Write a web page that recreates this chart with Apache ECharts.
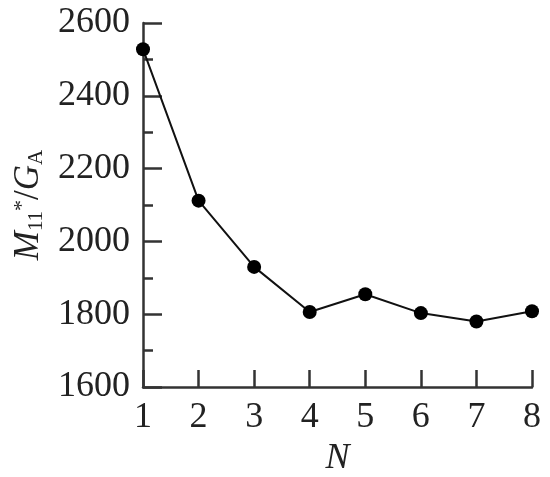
<!DOCTYPE html>
<html>
<head>
<meta charset="utf-8">
<script src="https://cdn.jsdelivr.net/npm/echarts@6/dist/echarts.min.js"></script>
<style>
  html, body { margin: 0; padding: 0; background: #fff; }
  #chart { width: 550px; height: 477px; }
</style>
</head>
<body>
<div id="chart"></div>
<script>
// N values and M11*/GA readings
const nValues = [1, 2, 3, 4, 5, 6, 7, 8];
const ratio = [2528, 2112, 1930, 1806, 1855, 1803, 1780, 1808];

const chart = echarts.init(document.getElementById('chart'));

const font = 'Liberation Serif';
const ink = '#222';

let option = {
    animation: false,
    grid: {
        left: 143,
        right: 18,
        top: 23,
        bottom: 90,
        outerBoundsMode: 'none'
    },
    xAxis: {
        type: 'value',
        min: 1,
        max: 8,
        interval: 1,
        name: 'N',
        nameLocation: 'middle',
        nameGap: 54,
        nameTextStyle: {
            fontFamily: font,
            fontStyle: 'italic',
            fontSize: 36,
            color: ink
        },
        axisLine: { lineStyle: { color: '#333', width: 2.5 } },
        axisTick: { inside: true, length: 17, lineStyle: { color: '#333', width: 2.5 } },
        axisLabel: { fontFamily: font, fontSize: 36, color: ink, margin: 13 },
        splitLine: { show: false }
    },
    yAxis: {
        type: 'value',
        min: 1600,
        max: 2600,
        interval: 200,
        name: '{m|M}{sub|11}{sup|*}{n|/}{m|G}{sub|A}',
        nameLocation: 'middle',
        nameRotate: 90,
        nameGap: 94,
        nameTextStyle: {
            rich: {
                m: { fontFamily: font, fontStyle: 'italic', fontSize: 35, lineHeight: 36, color: ink },
                n: { fontFamily: font, fontSize: 35, lineHeight: 36, color: ink },
                sub: { fontFamily: font, fontSize: 21, lineHeight: 16, verticalAlign: 'bottom', color: ink },
                sup: { fontFamily: font, fontSize: 22, lineHeight: 16, verticalAlign: 'top', color: ink }
            }
        },
        axisLine: { show: true, lineStyle: { color: '#333', width: 2.5 } },
        axisTick: { show: true, inside: true, length: 19, lineStyle: { color: '#333', width: 2.5 } },
        minorTick: { show: true, splitNumber: 2, length: 10, lineStyle: { color: '#333', width: 2.5 } },
        axisLabel: { fontFamily: font, fontSize: 36, color: ink, margin: 13, formatter: v => String(v) },
        splitLine: { show: false }
    },
    series: [
        {
            type: 'line',
            data: nValues.map((n, i) => [n, ratio[i]]),
            symbol: 'circle',
            symbolSize: 14,
            itemStyle: { color: '#000' },
            lineStyle: { color: '#111', width: 2 }
        }
    ]
};

chart.setOption(option);
</script>
</body>
</html>
